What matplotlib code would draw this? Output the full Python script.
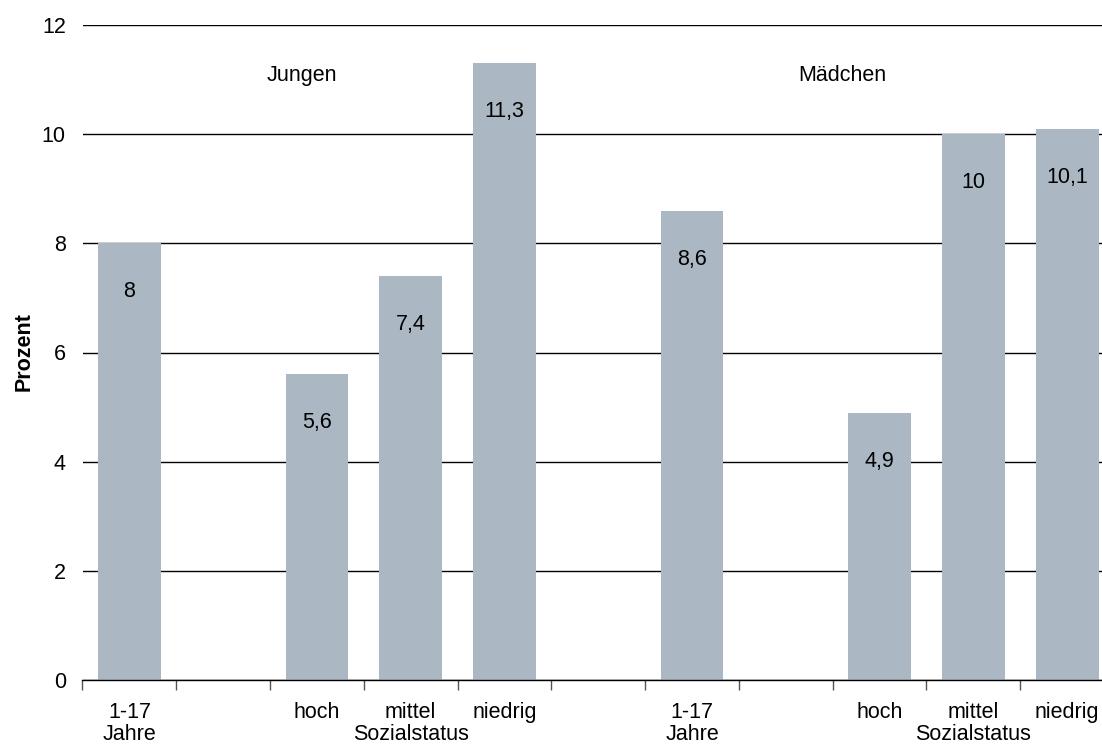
import matplotlib
matplotlib.use("Agg")
import matplotlib.pyplot as plt
from matplotlib.transforms import offset_copy

plt.rcParams['font.family'] = ['Liberation Sans', 'DejaVu Sans']

# Category slots along the x axis (empty strings are spacer slots)
slot_line1 = ["1-17", "", "hoch", "mittel", "niedrig", "", "1-17", "", "hoch", "mittel", "niedrig"]
slot_line2 = ["Jahre", "", "", "Sozialstatus", "", "", "Jahre", "", "", "Sozialstatus", ""]

# Bar values per slot (None = no bar)
jungen_values = [8.0, None, 5.6, 7.4, 11.3]
maedchen_values = [8.6, None, 4.9, 10.0, 10.1]
spacer = [None]
values = jungen_values + spacer + maedchen_values

group_labels = ["Jungen", "Mädchen"]
group_label_x = [1.84, 7.60]
group_label_y = 10.97

y_ticks = [0, 2, 4, 6, 8, 10, 12]
bar_color = "#ABB8C4"
FS = 15.5

def fmt(v):
    s = f"{v:g}"
    return s.replace(".", ",")

fig = plt.figure(figsize=(11.02, 7.44), dpi=100)
ax = fig.add_axes([82.5 / 1102, 64 / 744, (1114 - 82.5) / 1102, 655 / 744])

xs = [i for i, v in enumerate(values) if v is not None]
hs = [v for v in values if v is not None]
ax.bar(xs, hs, width=0.67, color=bar_color, zorder=2)

# Value labels inside the bars, just below the top
for x, h in zip(xs, hs):
    tr = offset_copy(ax.transData, fig=fig, y=-54, units='dots')
    ax.text(x, h, fmt(h), transform=tr, ha='center', va='baseline',
            fontsize=FS, color='black', zorder=3)

ax.set_xlim(-0.5, len(values) - 0.5)
ax.set_ylim(0, 12)
ax.set_yticks(y_ticks)
ax.set_yticklabels([str(t) for t in y_ticks], fontsize=FS)
ax.tick_params(axis='y', length=0, pad=12)
ax.yaxis.grid(True, color='black', linewidth=1.0, zorder=1)
ax.set_axisbelow(True)

# Slot boundary ticks on the x axis
ax.set_xticks([i - 0.5 for i in range(len(values) + 1)])
ax.set_xticklabels([])
ax.tick_params(axis='x', direction='out', length=7, width=1, color='#555555')

for s in ['left', 'right', 'top']:
    ax.spines[s].set_visible(False)
ax.spines['bottom'].set_color('black')
ax.spines['bottom'].set_linewidth(1.0)
ax.spines['bottom'].set_zorder(4)

tr1 = offset_copy(ax.get_xaxis_transform(), fig=fig, y=-38, units='dots')
tr2 = offset_copy(ax.get_xaxis_transform(), fig=fig, y=-60, units='dots')
for i, (l1, l2) in enumerate(zip(slot_line1, slot_line2)):
    if l1:
        ax.text(i, 0, l1, transform=tr1, ha='center', va='baseline', fontsize=FS, clip_on=False)
    if l2:
        ax.text(i, 0, l2, transform=tr2, ha='center', va='baseline', fontsize=FS, clip_on=False)

for lab, gx in zip(group_labels, group_label_x):
    ax.text(gx, group_label_y, lab, ha='center', va='baseline', fontsize=FS)

fig.text(24 / 1102, 1 - 352 / 744, "Prozent", rotation=90, ha='center', va='center',
         fontsize=FS, fontweight='bold')

fig.savefig("out.png", dpi=100)
